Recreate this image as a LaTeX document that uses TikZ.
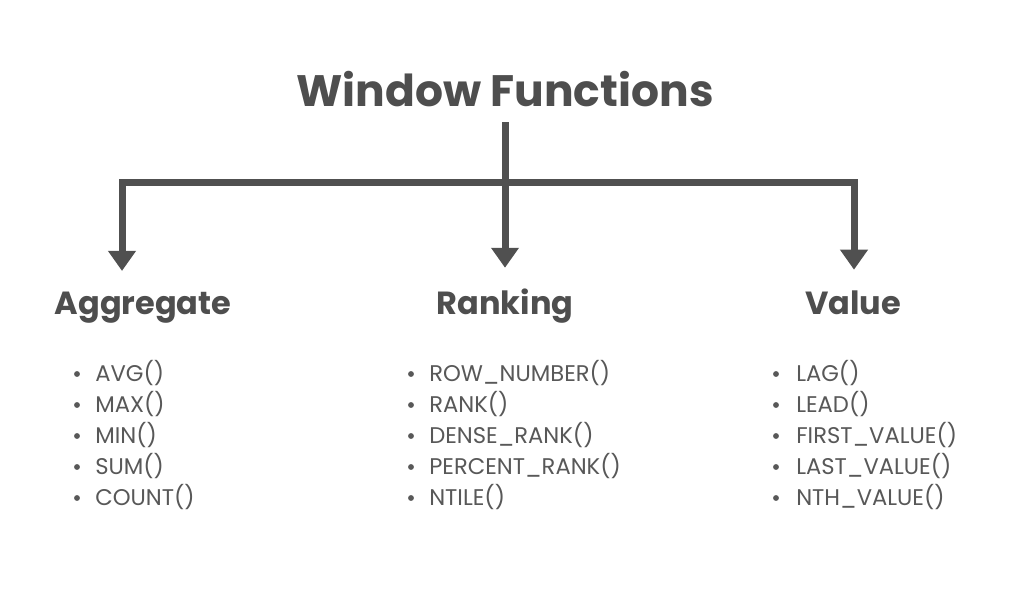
\documentclass[tikz,border=0pt]{standalone}
\usepackage{fontspec}
\setmainfont{Poppins}
\usepackage{tikz}
\usetikzlibrary{arrows.meta}
\usetikzlibrary{positioning}

\definecolor{lineGray}{RGB}{80,80,80}
\definecolor{headGray}{RGB}{78,78,78}
\definecolor{itemGray}{RGB}{88,88,88}

\begin{document}
\begin{tikzpicture}[x=0.75pt, y=-0.75pt,
    titlenode/.style={inner sep=0pt, text=headGray, font=\fontsize{33}{38}\selectfont\bfseries},
    headnode/.style={inner sep=0pt, text=headGray, font=\fontsize{24}{28}\selectfont\bfseries},
    itemnode/.style={inner sep=0pt, anchor=base west, text=itemGray, font=\fontsize{17}{20}\selectfont},
    link/.style={draw=lineGray, line width=5.25pt, line join=miter, -{Triangle[width=20pt, length=15pt]}},
    dot/.style={fill=itemGray}]
    \useasboundingbox[fill=white] (0,0) rectangle (1024,602);

    %Title and headers
    \node[titlenode, anchor=base] (title) at (505,107) {Window Functions};
    \node[headnode, anchor=base] (aggregate) at (143,315) {Aggregate};
    \node[headnode, anchor=base] (ranking) at (505,315) {Ranking};
    \node[headnode, anchor=base] (value) at (853,315) {Value};

    % Connectors
    \coordinate (aggTop) at (122,183);
    \coordinate (valTop) at (854,183);
    \draw[link, shorten <=11pt, shorten >=16pt] (title) -- (ranking);
    \draw[link, shorten >=16pt] (valTop) -- (aggTop) -- (aggTop |- aggregate.north);
    \draw[link, shorten >=16pt] (aggTop) -- (valTop) -- (valTop |- value.north);

    % Lists
    \foreach \t [count=\i] in {AVG(), MAX(), MIN(), SUM(), COUNT()} {
        \node[itemnode] (agg\i) at (95,{381+31*(\i-1)}) {\t};
        \fill[dot] (77,{374+31*(\i-1)}) circle (2.2pt);
    }
    \foreach \t [count=\i] in {ROW\_NUMBER(), RANK(), DENSE\_RANK(), PERCENT\_RANK(), NTILE()} {
        \node[itemnode] (rank\i) at (429,{381+31*(\i-1)}) {\t};
        \fill[dot] (411,{374+31*(\i-1)}) circle (2.2pt);
    }
    \foreach \t [count=\i] in {LAG(), LEAD(), FIRST\_VALUE(), LAST\_VALUE(), NTH\_VALUE()} {
        \node[itemnode] (val\i) at (796,{381+31*(\i-1)}) {\t};
        \fill[dot] (776,{374+31*(\i-1)}) circle (2.2pt);
    }
\end{tikzpicture}
\end{document}
